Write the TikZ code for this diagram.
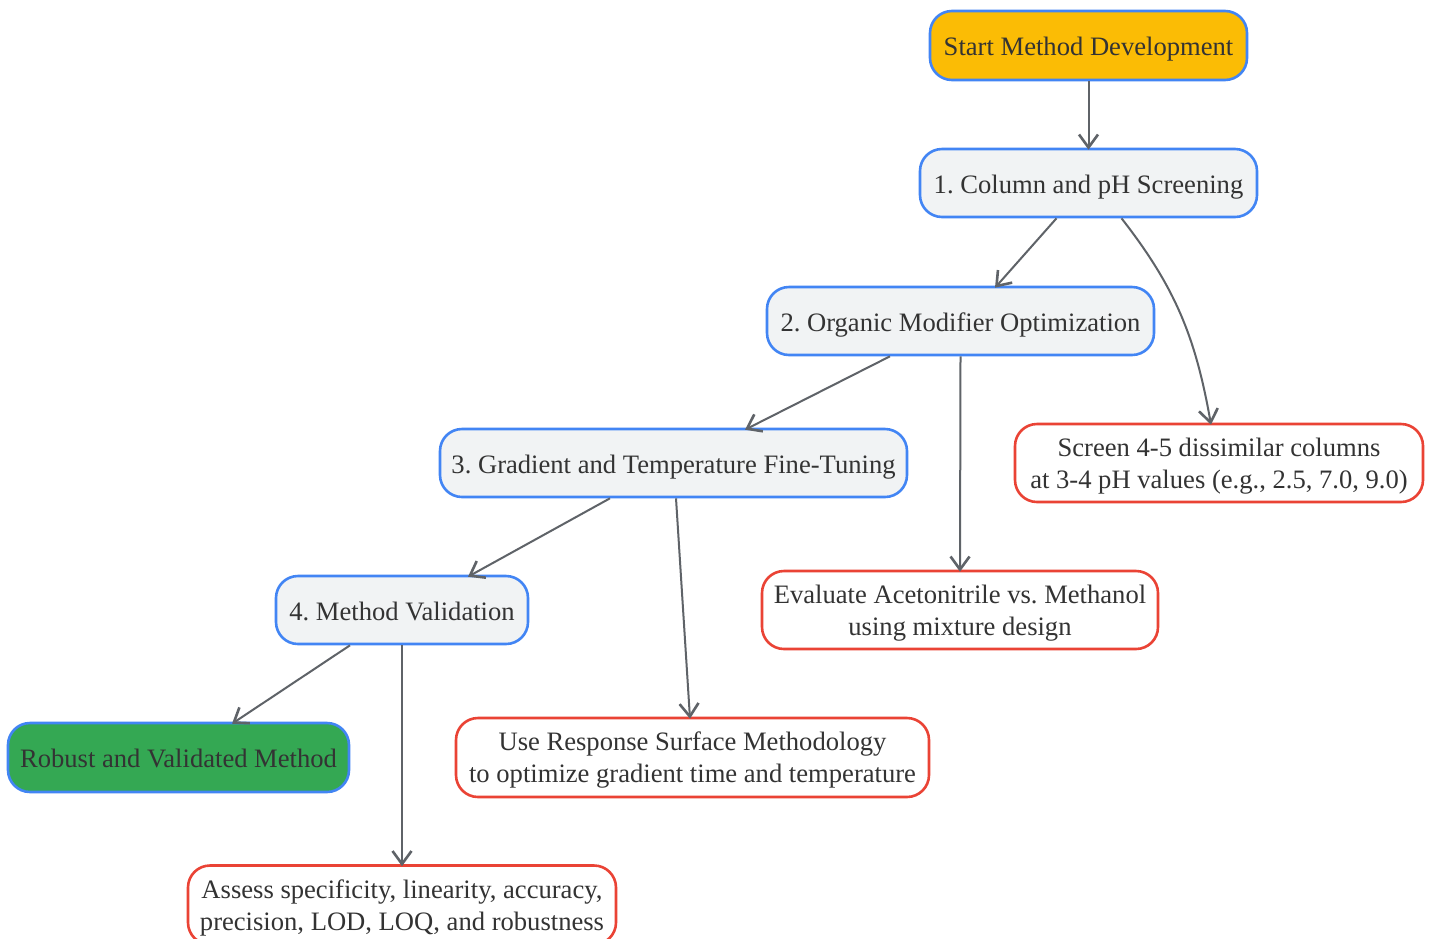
\documentclass[tikz,border=0pt]{standalone}
\usepackage{fontspec}
\setmainfont{Liberation Serif}
\usepackage{xcolor}
\usetikzlibrary{arrows, arrows.meta}
\frenchspacing

\definecolor{stepblue}{HTML}{4285F4}
\definecolor{stepfill}{HTML}{F1F3F4}
\definecolor{startfill}{HTML}{FBBC05}
\definecolor{donefill}{HTML}{34A853}
\definecolor{notered}{HTML}{EA4335}
\definecolor{linkgray}{HTML}{5F6368}
\definecolor{textgray}{HTML}{333333}

\tikzset{
  box/.style={rounded corners=22pt, line width=2.6pt, align=center, text=textgray,
    font=\fontsize{26.6}{32}\selectfont, inner sep=0pt,
    execute at begin node={\rule[-6pt]{0pt}{32pt}}},
  stage/.style={box, draw=stepblue, fill=stepfill, minimum height=68pt},
  startbox/.style={box, draw=stepblue, fill=startfill, minimum height=69pt},
  donebox/.style={box, draw=stepblue, fill=donefill, minimum height=69pt},
  notebox/.style={box, draw=notered, fill=white, minimum height=78pt, text depth=-2pt},
  link/.style={line width=2pt, draw=linkgray,
    -{Straight Barb[length=13pt,width=19pt,line width=2.6pt]}},
}

\begin{document}
\begin{tikzpicture}[x=1pt,y=-1pt]
\useasboundingbox[fill=white] (0,0) rectangle (1434,938);

% main chain
\node[startbox, minimum width=317pt] (start) at (1088.5,45.5) {Start Method Development};
\node[stage, minimum width=337pt] (s1) at (1088.5,183) {1. Column and pH Screening}; %1
\node[stage, minimum width=387pt] (s2) at (960.5,321) {2. Organic Modifier Optimization}; %2
\node[stage, minimum width=467pt] (s3) at (673.5,463) {3. Gradient and Temperature Fine-Tuning}; %3
\node[stage, minimum width=252pt] (s4) at (402,610) {4. Method Validation}; %4
\node[donebox, minimum width=341pt] (done) at (178.5,757.5) {Robust and Validated Method};

% notes
\node[notebox, minimum width=408pt] (n1) at (1219,463) {Screen 4-5 dissimilar columns\\at 3-4 pH values (e.g., 2.5, 7.0, 9.0)};
\node[notebox, minimum width=396pt] (n2) at (960,610) {Evaluate Acetonitrile vs. Methanol\\using mixture design};
\node[notebox, minimum width=473pt, minimum height=79pt] (n3) at (692.5,757.5) {Use Response Surface Methodology\\to optimize gradient time and temperature};
\node[notebox, minimum width=428pt, minimum height=79pt] (n4) at (402,905) {Assess specificity, linearity, accuracy,\\precision, LOD, LOQ, and robustness};

% links
\draw[link] (start.south) -- ([yshift=-2pt]s1.north);
\draw[link] ([xshift=-32pt]s1.south) -- ([xshift=34.5pt,yshift=-2pt]s2.north);
\draw[link] ([xshift=33pt]s1.south) to[out=-52,in=100] ([xshift=-8pt,yshift=-2pt]n1.north);
\draw[link] ([xshift=-70.5pt]s2.south) -- ([xshift=71.5pt,yshift=-2pt]s3.north);
\draw[link] (s2.south) -- ([yshift=-2pt]n2.north);
\draw[link] ([xshift=-63.5pt]s3.south) -- ([xshift=66pt,yshift=-2pt]s4.north);
\draw[link] ([xshift=2.5pt]s3.south) -- ([xshift=-2.5pt,yshift=-2pt]n3.north);
\draw[link] ([xshift=-52pt]s4.south) -- ([xshift=53.5pt,yshift=-2pt]done.north);
\draw[link] (s4.south) -- ([yshift=-2pt]n4.north);
\end{tikzpicture}
\end{document}
